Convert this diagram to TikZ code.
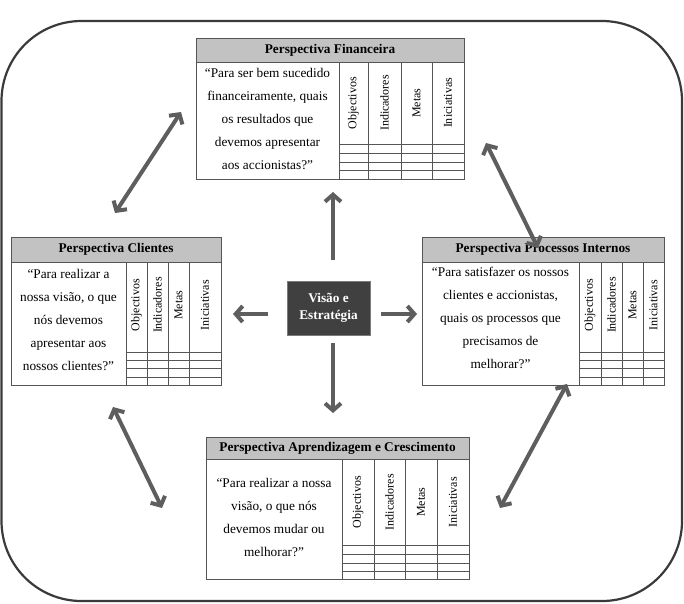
\documentclass[tikz,border=0pt]{standalone}
\usepackage{fontspec}
\setmainfont{Liberation Serif}
\usetikzlibrary{arrows.meta}
\definecolor{framec}{HTML}{3A3A3A}
\definecolor{hdrc}{HTML}{C2C2C2}
\definecolor{linec}{HTML}{555555}
\definecolor{arrc}{HTML}{5E5E5E}
\definecolor{corec}{HTML}{404040}
\definecolor{coreb}{HTML}{7A7A7A}
\begin{document}
\begin{tikzpicture}[x=1pt,y=-1pt,
  gridl/.style={draw=linec, line width=0.9pt},
  hdrtxt/.style={font=\fontsize{13.3}{16}\selectfont\bfseries, inner sep=0pt},
  qtxt/.style={font=\fontsize{13.3}{23}\selectfont, align=center, inner sep=0pt},
  coltxt/.style={font=\fontsize{12}{14}\selectfont, rotate=90, inner sep=0pt},
  arrowline/.style={draw=arrc, line width=4pt, -{Straight Barb[length=7pt,width=16pt]}},
  dblarrow/.style={draw=arrc, line width=4pt, {Straight Barb[length=7pt,width=16pt]}-{Straight Barb[length=7pt,width=16pt]}},
]
\useasboundingbox (0,0) rectangle (684,603);
\draw[draw=framec, line width=2.2pt, rounded corners=80pt] (1.5,21) rectangle (682,601);

% Financeira
\fill[hdrc] (196,38) rectangle (464,62);
\draw[gridl] (196,38) rectangle (464,179) (196,62) -- (464,62);
\foreach \x in {339,368,401,432} \draw[gridl] (\x,62) -- (\x,179);
\foreach \y in {144,153,162,170} \draw[gridl] (339,\y) -- (464,\y);
\node[hdrtxt] (finT) at (330,50) {Perspectiva Financeira};
\node[qtxt] (finQ) at (267.5,119) {“Para ser bem sucedido\\financeiramente, quais\\os resultados que\\devemos apresentar\\aos accionistas?”};
\node[coltxt] (finO) at (353.5,103) {Objectivos};
\node[coltxt] (finI) at (384.5,103) {Indicadores};
\node[coltxt] (finM) at (416.5,103) {Metas};
\node[coltxt] (finN) at (448,103) {Iniciativas};

% Clientes
\fill[hdrc] (11,237) rectangle (221,262);
\draw[gridl] (11,237) rectangle (221,385) (11,262) -- (221,262);
\foreach \x in {126,147,168,189} \draw[gridl] (\x,262) -- (\x,385);
\foreach \y in {352,360,368,377} \draw[gridl] (126,\y) -- (221,\y);
\node[hdrtxt] (cliT) at (116,249.5) {Perspectiva Clientes};
\node[qtxt] (cliQ) at (68.5,320) {“Para realizar a\\nossa visão, o que\\nós devemos\\apresentar aos\\nossos clientes?”};
\node[coltxt] (cliO) at (136.5,305) {Objectivos};
\node[coltxt] (cliI) at (157.5,305) {Indicadores};
\node[coltxt] (cliM) at (178.5,305) {Metas};
\node[coltxt] (cliN) at (205,305) {Iniciativas};

% Processos Internos
\fill[hdrc] (422,237) rectangle (664,262);
\draw[gridl] (422,237) rectangle (664,385) (422,262) -- (664,262);
\foreach \x in {579,601,622,643} \draw[gridl] (\x,262) -- (\x,385);
\foreach \y in {352,360,368,377} \draw[gridl] (579,\y) -- (664,\y);
\node[hdrtxt] (proT) at (543,249.5) {Perspectiva Processos Internos};
\node[qtxt] (proQ) at (500.5,318) {“Para satisfazer os nossos\\clientes e accionistas,\\quais os processos que\\precisamos de\\melhorar?”};
\node[coltxt] (proO) at (590,305) {Objectivos};
\node[coltxt] (proI) at (611.5,305) {Indicadores};
\node[coltxt] (proM) at (632.5,305) {Metas};
\node[coltxt] (proN) at (653.5,305) {Iniciativas};

% Aprendizagem e Crescimento
\fill[hdrc] (206,437) rectangle (469,459);
\draw[gridl] (206,437) rectangle (469,579) (206,459) -- (469,459);
\foreach \x in {342,374,405,437} \draw[gridl] (\x,459) -- (\x,579);
\foreach \y in {545,554,563,571} \draw[gridl] (342,\y) -- (469,\y);
\node[hdrtxt] (aprT) at (337.5,448) {Perspectiva Aprendizagem e Crescimento};
\node[qtxt] (aprQ) at (274,517) {“Para realizar a nossa\\visão, o que nós\\devemos mudar ou\\melhorar?”};
\node[coltxt] (aprO) at (358,502) {Objectivos};
\node[coltxt] (aprI) at (389.5,502) {Indicadores};
\node[coltxt] (aprM) at (421,502) {Metas};
\node[coltxt] (aprN) at (453,502) {Iniciativas};

% Centre
\node[fill=corec, draw=coreb, line width=1pt, minimum width=83pt, minimum height=54pt,
      text=white, align=center, font=\fontsize{13.3}{17}\selectfont\bfseries] (core) at (328.5,308) {Visão e\\Estratégia};

% Arrows from centre
\coordinate (upS) at (333,260);  \coordinate (upE) at (333,192);
\coordinate (dnS) at (333,343);  \coordinate (dnE) at (333,413);
\coordinate (ltS) at (268,314);  \coordinate (ltE) at (233,314);
\coordinate (rtS) at (381,314);  \coordinate (rtE) at (417,314);
\draw[arrowline] (upS) -- (upE);
\draw[arrowline] (dnS) -- (dnE);
\draw[arrowline] (ltS) -- (ltE);
\draw[arrowline] (rtS) -- (rtE);

% Diagonal double arrows
\coordinate (tlA) at (115,213); \coordinate (tlB) at (181,112);
\coordinate (trA) at (486,143); \coordinate (trB) at (538,248);
\coordinate (blA) at (113,407); \coordinate (blB) at (162,508);
\coordinate (brA) at (500,508); \coordinate (brB) at (567,384);
\draw[dblarrow] (tlA) -- (tlB);
\draw[dblarrow] (trA) -- (trB);
\draw[dblarrow] (blA) -- (blB);
\draw[dblarrow] (brA) -- (brB);
\end{tikzpicture}
\end{document}
